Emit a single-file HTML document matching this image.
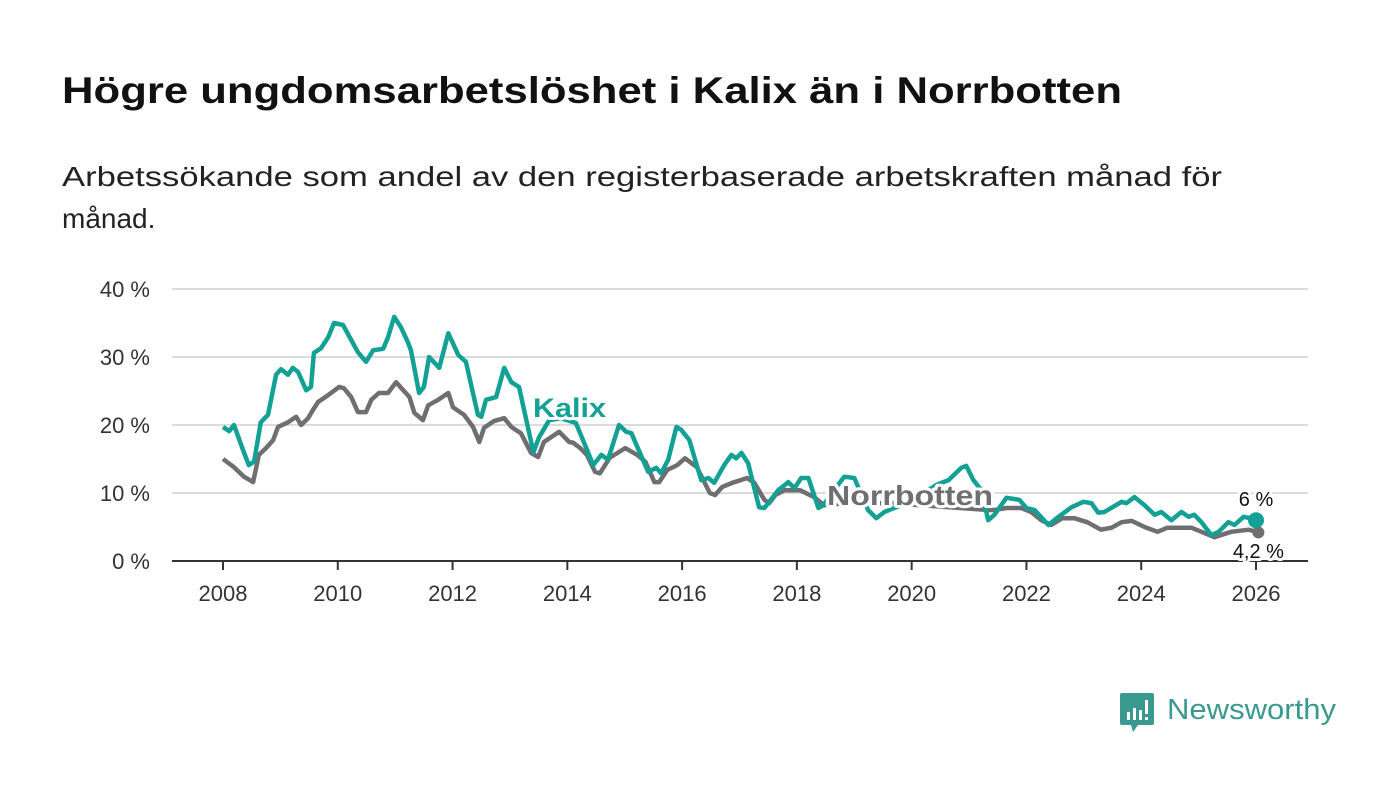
<!DOCTYPE html>
<html><head><meta charset="utf-8">
<style>
html,body{margin:0;padding:0;background:#fff;width:1400px;height:794px;overflow:hidden}
svg{display:block;font-family:"Liberation Sans",sans-serif}
</style></head>
<body>
<svg id="chart" width="1400" height="794" viewBox="0 0 1400 794">
<text x="62" y="103" font-size="37" font-weight="bold" fill="#111" textLength="1060" lengthAdjust="spacingAndGlyphs">Högre ungdomsarbetslöshet i Kalix än i Norrbotten</text>
<text x="62" y="186" font-size="28" fill="#222" textLength="1160" lengthAdjust="spacingAndGlyphs">Arbetssökande som andel av den registerbaserade arbetskraften månad för</text>
<text x="62" y="228" font-size="28" fill="#222">månad.</text>
<g id="grid"></g>
<g id="yticks"></g>
<g id="xticks"></g>
<g id="series"></g>
<g id="labels"></g>
<g>
<path d="M1122 693 h30 a2 2 0 0 1 2 2 v28 a2 2 0 0 1 -2 2 h-14 l-5 7 l-2 -7 h-9 a2 2 0 0 1 -2 -2 v-28 a2 2 0 0 1 2 -2z" fill="#3a998f"/>
<rect x="1127" y="712" width="3" height="8" fill="#fff"/><rect x="1133" y="708" width="3" height="12" fill="#fff"/><rect x="1139" y="710" width="3" height="10" fill="#fff"/><rect x="1145" y="700" width="3" height="14" fill="#fff"/><rect x="1145" y="717" width="3" height="3" fill="#fff"/>
<text x="1167" y="719" font-size="29" fill="#3a998f" textLength="169" lengthAdjust="spacingAndGlyphs">Newsworthy</text>
</g>
</svg>
<script>
const yTicks=[0,10,20,30,40];
const yTickLabels=["0 %","10 %","20 %","30 %","40 %"];
const xTicks=[2008,2010,2012,2014,2016,2018,2020,2022,2024,2026];
// months since Jan 2008
const kalixMonths=[0,1.3,2.3,4.2,5.4,6.5,7.9,9.4,11.1,12.1,13.6,14.6,15.7,17.4,18.4,19,20.5,22,23.2,25.1,28.2,29.9,31.4,33.5,34.5,35.8,37.2,38.7,39.3,41,42,43.1,45.2,47.1,49.2,50.8,53.3,54,55,57.1,58.8,60.3,61.9,64.9,66.1,68.2,70.7,73.8,75.5,77.4,79.1,80.5,82.8,84.3,85.4,88.9,90.6,91.6,93.1,94.8,95.8,97.5,100,101.5,102.7,104.8,106.3,107.3,108.4,109.8,112.1,113.2,116.1,118.2,119.5,120.9,122.4,124.5,125.5,127.8,129.9,132,134.9,136.6,138.3,141.8,146,149.2,151.7,154.4,155.4,156.9,158.6,160,161.3,162.3,163.8,166.5,168,169.7,172.6,174.7,177.4,179.9,181.6,183,184.3,187.9,188.9,190.6,192.7,194.8,196.2,198.3,200.4,201.9,203.1,204.6,206.7,208.2,210.2,211.5,213.4,214.8,216];
const kalixValues=[19.7,19.1,20,16.3,14.1,14.6,20.4,21.5,27.4,28.2,27.4,28.4,27.8,25.1,25.6,30.6,31.3,32.9,35,34.7,30.7,29.3,31,31.2,32.9,35.9,34.4,32.1,31,24.7,25.6,30,28.4,33.5,30.3,29.3,21.5,21.2,23.7,24.1,28.4,26.3,25.6,16,18.2,20.7,21,20.3,17.4,14.1,15.6,14.9,20,19,18.8,13.1,13.7,12.9,14.9,19.7,19.3,17.8,11.9,12.2,11.5,14.1,15.6,15.1,15.9,14.4,7.9,7.8,10.4,11.6,10.7,12.2,12.2,7.8,8.2,10.4,12.4,12.2,7.5,6.3,7.2,8.2,9.7,11.2,11.9,13.7,14,11.9,10.4,6,6.8,7.8,9.3,9,7.8,7.5,5.3,6.5,7.9,8.7,8.5,7.1,7.2,8.7,8.5,9.4,8.2,6.8,7.2,6,7.2,6.5,6.8,5.7,3.8,4.3,5.7,5.3,6.5,6.3,6];
const norrMonths=[0,2.3,4.4,6.3,7.5,9,10.5,11.5,13.6,15.3,16.3,17.8,18.8,19.9,22,24.3,25.3,26.8,28.2,29.9,31,32.6,34.5,36.2,37.7,39,40,41.8,42.9,45,47.1,48.1,50.4,52.3,53.6,54.6,56.7,58.8,60.3,62.3,64.4,65.9,67.1,70.3,72.4,73.2,74.7,76.1,77.8,78.8,80.9,84.1,86.6,88.3,90.2,91.2,92.9,95,96.6,99.1,101.8,102.9,104.4,106.5,109.6,111.1,113.2,114.2,115.5,117.4,120.7,123.6,125.7,130,140,150,160,161.3,163.8,166.9,169,171.1,173.2,175.5,178,180.7,183.6,185.8,187.9,190,192.7,195.4,197.5,202.5,204.6,207.3,210.8,214.5,216.5];
const norrValues=[15,13.8,12.4,11.6,15.6,16.6,17.8,19.7,20.4,21.2,20,21,22.2,23.4,24.4,25.6,25.4,24.1,21.9,21.9,23.7,24.7,24.7,26.3,25.1,24.1,21.8,20.7,22.9,23.7,24.7,22.6,21.5,19.7,17.5,19.6,20.6,21,19.7,18.8,15.9,15.3,17.5,19,17.5,17.4,16.6,15.6,13.1,12.9,15.2,16.6,15.6,14.6,11.6,11.6,13.4,14.1,15.1,13.8,10,9.7,10.9,11.5,12.2,11.5,9,8.5,9.7,10.4,10.4,9.4,8.2,8.5,8.5,8,7.5,7.5,7.8,7.8,7.2,6,5.3,6.3,6.3,5.7,4.6,4.9,5.7,5.9,5,4.3,4.9,4.9,4.3,3.5,4.3,4.6,4.2];
const kalixLast="6 %";
const norrLast="4,2 %";

const NS="http://www.w3.org/2000/svg";
const X0=223, PX_YEAR=(1256-223)/18, Y0=561, PX_PCT=6.8;
const xYear=t=>X0+(t-2008)*PX_YEAR;
const xMonth=m=>xYear(2008+m/12);
const y=v=>Y0-v*PX_PCT;
function mk(tag,attrs,parent){const e=document.createElementNS(NS,tag);for(const k in attrs)e.setAttribute(k,attrs[k]);parent.appendChild(e);return e;}
const grid=document.getElementById('grid'),yt=document.getElementById('yticks'),xt=document.getElementById('xticks'),ser=document.getElementById('series'),lab=document.getElementById('labels');
yTicks.forEach((v,i)=>{
  if(v>0){const l=mk('line',{x1:172,x2:1308,y1:y(v),y2:y(v),stroke:'#dcdcdc','stroke-width':2},grid);
  
  }
  const t=mk('text',{x:150,y:y(v)+8,'font-size':22,fill:'#333','text-anchor':'end'},yt);
  t.textContent=yTickLabels[i];
  
  
});
const base=mk('line',{x1:172,x2:1308,y1:Y0,y2:Y0,stroke:'#333','stroke-width':2},xt);


xTicks.forEach(yr=>{
  const tk=mk('line',{x1:xYear(yr),x2:xYear(yr),y1:Y0,y2:Y0+9,stroke:'#333','stroke-width':2},xt);
  
  
  const t=mk('text',{x:xYear(yr),y:601,'font-size':22,fill:'#333','text-anchor':'middle'},xt);
  t.textContent=yr;
  
  
});
function line(ms,vs,color,name){
  const d=ms.map((m,i)=>(i?'L':'M')+xMonth(m).toFixed(1)+' '+y(vs[i]).toFixed(1)).join(' ');
  const p=mk('path',{d:d,fill:'none',stroke:color,'stroke-width':4.5,'stroke-linejoin':'round'},ser);
  
  
}
line(norrMonths,norrValues,'#6f6e70','norrbotten-line');
line(kalixMonths,kalixValues,'#13a095','kalix-line');
const gn=norrMonths.length-1, kn=kalixMonths.length-1;
const gd=mk('circle',{cx:xMonth(norrMonths[gn]),cy:y(norrValues[gn]),r:6,fill:'#6f6e70'},ser);


const kd=mk('circle',{cx:xMonth(kalixMonths[kn]),cy:y(kalixValues[kn]),r:8,fill:'#13a095'},ser);


function label(txt,x,yy,size,color,weight,name,anchor,len){
  const t=mk('text',{x:x,y:yy,'font-size':size,fill:color,'font-weight':weight,stroke:'#fff','stroke-width':6,'paint-order':'stroke','stroke-linejoin':'round','text-anchor':anchor||'start'},lab);
  if(len){t.setAttribute('textLength',len);t.setAttribute('lengthAdjust','spacingAndGlyphs');}
  t.textContent=txt;
  
  
}
label('Kalix',533,417,27,'#13a095','bold','kalix-label','start',73);
label('Norrbotten',827,505,28,'#6f6e70','bold','norrbotten-label','start',166);
label(kalixLast,xMonth(kalixMonths[kn]),506,20,'#111','normal','kalix-end-value','middle');
label(norrLast,xMonth(norrMonths[gn]),558,20,'#111','normal','norrbotten-end-value','middle');
</script>
</body></html>
